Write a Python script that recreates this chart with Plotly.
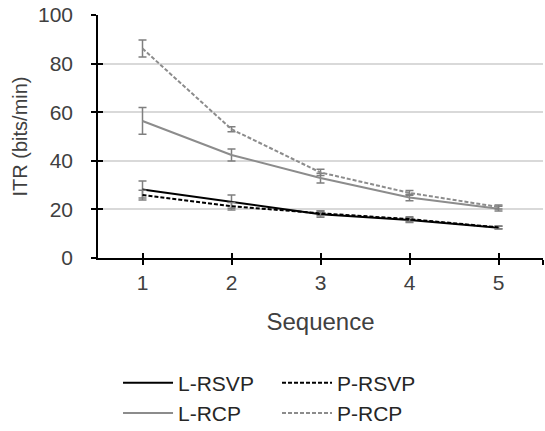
import plotly.graph_objects as go

sequence = [1, 2, 3, 4, 5]
l_rsvp = [28.2, 23.2, 18.0, 15.6, 12.5]
l_rsvp_err = [3.5, 2.7, 1.2, 1.0, 0.6]
p_rsvp = [25.9, 21.3, 18.4, 16.0, 12.6]
p_rsvp_err = [2.0, 1.5, 1.0, 1.0, 0.6]
l_rcp = [56.4, 42.4, 32.9, 24.9, 20.3]
l_rcp_err = [5.5, 2.5, 2.0, 1.3, 1.0]
p_rcp = [86.2, 53.0, 35.2, 26.8, 21.0]
p_rcp_err = [3.5, 1.0, 1.3, 1.0, 0.8]
y_ticks = [0, 20, 40, 60, 80, 100]

font = "Liberation Sans, Arial, sans-serif"
text_color = "#404040"
err_color = "#7f7f7f"

def trace(name, y, err, color, dash):
    return go.Scatter(
        x=sequence, y=y, name=name, mode="lines",
        line=dict(color=color, width=2, dash=dash),
        error_y=dict(type="data", array=err, visible=True,
                     color=err_color, thickness=1.5, width=4),
    )

fig = go.Figure()
fig.add_trace(trace("L-RSVP", l_rsvp, l_rsvp_err, "#000000", "solid"))
fig.add_trace(trace("P-RSVP", p_rsvp, p_rsvp_err, "#000000", "4px,2px"))
fig.add_trace(trace("L-RCP", l_rcp, l_rcp_err, "#8c8c8c", "solid"))
fig.add_trace(trace("P-RCP", p_rcp, p_rcp_err, "#8c8c8c", "4px,2px"))
# invisible helper trace so the overlay axes (inside tick halves) are drawn
fig.add_trace(go.Scatter(x=[sequence[0]], y=[y_ticks[0]], xaxis="x2", yaxis="y2",
                         mode="markers", marker=dict(opacity=0), showlegend=False,
                         hoverinfo="skip"))

fig.update_layout(
    width=545, height=431,
    margin=dict(l=98, r=2, t=15, b=173, autoexpand=False),
    plot_bgcolor="white", paper_bgcolor="white",
    font=dict(family=font, size=21, color=text_color),
    xaxis=dict(range=[0.5, 5.5], tickvals=sequence + [5.5],
               ticktext=[str(s) for s in sequence] + [""],
               ticks="outside", ticklen=5, tickwidth=1.5, tickcolor="black",
               showline=True, linecolor="black", linewidth=1.5,
               showgrid=False, zeroline=False,
               title=dict(text="Sequence", standoff=20, font=dict(size=24)),
               tickfont=dict(size=21)),
    yaxis=dict(range=[0, 100], tickvals=y_ticks,
               ticks="outside", ticklen=5, tickwidth=1.5, tickcolor="black",
               ticklabelstandoff=14, ticklabeloverflow="allow",
               showline=True, linecolor="black", linewidth=1.5,
               showgrid=True, gridcolor="#d9d9d9", gridwidth=1.5,
               zeroline=False,
               title=dict(text="ITR (bits/min)", standoff=5, font=dict(size=20)),
               tickfont=dict(size=21)),
    xaxis2=dict(overlaying="x", range=[0.5, 5.5], tickvals=sequence + [5.5],
                ticks="inside", ticklen=5, tickwidth=1.5, tickcolor="black",
                showticklabels=False, showgrid=False, zeroline=False,
                showline=False, anchor="y2", side="bottom"),
    yaxis2=dict(overlaying="y", range=[0, 100], tickvals=y_ticks,
                ticks="inside", ticklen=5, tickwidth=1.5, tickcolor="black",
                showticklabels=False, showgrid=False, zeroline=False,
                showline=False, anchor="x2", side="left"),
    legend=dict(orientation="h", x=0.045, xanchor="left", y=-0.43, yanchor="top",
                entrywidth=94, entrywidthmode="pixels",
                font=dict(size=21, color="#262626"),
                tracegroupgap=0, itemwidth=50),
    showlegend=True,
)

fig.write_html("out.html", config={"displayModeBar": False},
               post_script="document.body.style.margin='0';")
